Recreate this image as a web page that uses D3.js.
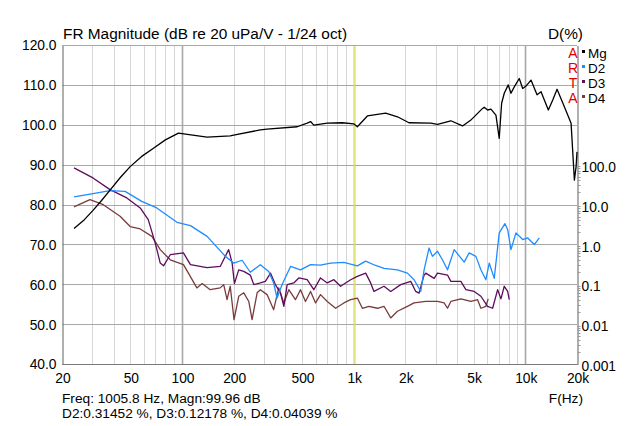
<!DOCTYPE html>
<html><head><meta charset="utf-8">
<script src="https://cdn.jsdelivr.net/npm/d3@7"></script>
<style>
html,body{margin:0;padding:0;background:#fff;}
svg{display:block;font-family:"Liberation Sans",Arial,sans-serif;}
</style></head>
<body><svg id="c" width="640" height="426"></svg>
<script>
// ---------------- data ----------------
const title = "FR Magnitude (dB re 20 uPa/V - 1/24 oct)";
const rightTitle = "D(%)";
const xTicks = [20, 50, 100, 200, 500, 1000, 2000, 5000, 10000, 20000];
const xTickLabels = ["20", "50", "100", "200", "500", "1k", "2k", "5k", "10k", "20k"];
const yTicks = [40, 50, 60, 70, 80, 90, 100, 110, 120];
const dTicks = [0.001, 0.01, 0.1, 1, 10, 100];
const dTickLabels = ["0.001", "0.01", "0.1", "1.0", "10.0", "100.0"];
const legendNames = ["Mg", "D2", "D3", "D4"];
const artaLetters = ["A", "R", "T", "A"];
const cursorFreq = 1005.8;
const footer1 = "Freq: 1005.8 Hz, Magn:99.96 dB";
const footer2 = "D2:0.31452 %, D3:0.12178 %, D4:0.04039 %";
const xAxisTitle = "F(Hz)";

// Magnitude (dB)
const mgFreq = [23.5,27,30.4,34,38.1,43.6,49.9,58,68.2,80,95.4,110,140,191,200,286,313,469,536,561,586,702,859,1004,1051,1202,1537,1799,2101,2814,3080,3682,4308,4818,4930,5636,5760,6030,6304,6742,7048,7278,7538,7954,8248,8622,9220,9652,10092,10790,11700,12346,13616,14446,15306,16882,18472,19312,19758,20000];
const mgDb = [74.0,76.2,78.6,81.0,83.6,86.7,89.5,92.0,94.1,96.2,97.9,97.5,96.9,97.2,97.4,98.7,98.9,99.5,100.4,100.8,99.9,100.4,100.5,100.2,99.5,102.2,102.9,102.0,100.5,100.4,100.1,101.0,99.7,101.2,101.6,104.1,104.4,103.7,103.9,102.4,96.6,105.4,107.9,110.0,107.9,109.5,111.6,109.1,109.7,111.2,107.5,108.3,103.7,106.2,108.9,104.5,100.4,86.1,89.5,93.2];

// 2nd harmonic distortion (%)
const d2Freq = [23.5,30.3,38.1,46.6,58.3,71.3,93.5,112,140,179,200,224,250,286,320,342,358,383,429,490,561,640,734,877,960,1051,1175,1330,1502,1799,2056,2248,2460,2572,2750,2878,3080,3300,3522,3850,4402,4708,5152,5510,5892,6162,6590,7048,7608,7890,8248,8820,9652,10324,11280,12068];
const d2Pct = [15.5,18.7,22.3,21.4,12.0,8.2,3.57,2.95,1.59,0.50,0.34,0.40,0.20,0.31,0.21,0.107,0.045,0.098,0.28,0.23,0.31,0.30,0.34,0.355,0.32,0.29,0.38,0.30,0.25,0.23,0.19,0.13,0.066,0.23,0.81,0.50,0.67,0.40,0.23,0.74,0.36,0.61,0.50,0.23,0.13,0.34,0.14,1.94,3.31,2.35,0.74,1.94,1.32,1.45,0.99,1.45];

// 3rd harmonic distortion (%)
const d3Freq = [23.5,30.3,38.1,47.7,57.1,63.6,69.8,74.7,78.1,85.4,102,112,140,167,187,196,202,214,229,250,262,286,306,328,350,375,392,410,448,479,536,586,641,702,767,839,960,1051,1175,1256,1313,1502,1644,1880,2150,2300,2404,2572,2630,2942,3080,3522,3682,4212,4504,5036,5510,6030,6450,6898,7212,7538,7890,8062];
const d3Pct = [82.6,46.4,23.6,14.6,8.2,4.18,1.09,0.34,0.29,0.55,0.61,0.31,0.26,0.28,0.74,0.34,0.104,0.23,0.21,0.17,0.098,0.108,0.118,0.19,0.098,0.060,0.028,0.098,0.108,0.144,0.13,0.073,0.144,0.108,0.13,0.089,0.13,0.158,0.19,0.108,0.066,0.089,0.066,0.098,0.118,0.066,0.060,0.17,0.19,0.14,0.19,0.17,0.118,0.118,0.073,0.066,0.050,0.028,0.025,0.073,0.043,0.089,0.066,0.041];

// 4th harmonic distortion (%)
const d4Freq = [23.5,29.1,34.8,43.6,49.9,57.1,66.8,74.7,85.4,102,109,122,131,146,167,175,183,191,201,214,229,245,256,274,286,313,342,366,392,419,458,490,524,561,600,641,702,785,877,960,1051,1124,1228,1375,1502,1644,1799,2056,2248,2630,3080,3364,3522,3682,4212,4818,5270,5510,5892,6078];
const d4Pct = [8.7,13.2,9.9,5.05,2.8,2.44,1.59,0.74,0.41,0.31,0.19,0.081,0.104,0.073,0.081,0.098,0.041,0.089,0.013,0.050,0.061,0.037,0.013,0.061,0.073,0.055,0.023,0.081,0.034,0.073,0.041,0.073,0.037,0.066,0.034,0.055,0.037,0.025,0.034,0.041,0.045,0.025,0.028,0.025,0.028,0.0143,0.021,0.028,0.034,0.037,0.037,0.034,0.025,0.037,0.043,0.037,0.041,0.025,0.028,0.043];

const colors = {Mg:"#000000", D2:"#1E8CFF", D3:"#5E0C5E", D4:"#7A3B3B"};

// ---------------- drawing ----------------
const svg = d3.select("#c");
const L = 62, R = 577, T = 45, B = 364;
const x = d3.scaleLog().domain([20, 20000]).range([L, R]);
const y = d3.scaleLinear().domain([40, 120]).range([B, T]);
const yd = d3.scaleLog().domain([0.001, 100000]).range([B, T]);

const grid = svg.append("g");
const vLines = [];
for (let dec = 10; dec <= 10000; dec *= 10) {
  for (let m = 1; m <= 9; m++) {
    const v = dec * m;
    if (v > 20 && v < 20000) vLines.push(v);
  }
}
const isMajor = d => (d === 100 || d === 1000 || d === 10000);
grid.selectAll("line.v").data(vLines).enter().append("line")
  .attr("x1", d => Math.round(x(d)) + 0.5).attr("x2", d => Math.round(x(d)) + 0.5)
  .attr("y1", T).attr("y2", B)
  .attr("stroke", d => isMajor(d) ? "#A8A8A8" : "#D6D6D6")
  .attr("stroke-width", d => isMajor(d) ? 1.6 : 1);
grid.selectAll("line.h").data(yTicks).enter().append("line")
  .attr("x1", L).attr("x2", R)
  .attr("y1", d => Math.round(y(d)) + 0.5).attr("y2", d => Math.round(y(d)) + 0.5)
  .attr("stroke", "#A8A8A8").attr("stroke-width", 1);

// cursor
svg.append("line").attr("x1", Math.round(x(cursorFreq)) + 0.5).attr("x2", Math.round(x(cursorFreq)) + 0.5)
  .attr("y1", T).attr("y2", B).attr("stroke", "#E2E27A").attr("stroke-width", 1.3);

// axes
const axisColor = "#7A7A7A";
const fontAx = "13.8px";
const leftAxis = d3.axisLeft(y).tickValues(yTicks).tickFormat(d3.format(".1f")).tickSize(0).tickPadding(6);
const gl = svg.append("g").attr("transform", `translate(${L + 0.5},0.5)`).call(leftAxis);
const bottomAxis = d3.axisBottom(x).tickValues(xTicks).tickFormat((d, i) => xTickLabels[i]).tickSize(0).tickPadding(9);
const gb = svg.append("g").attr("transform", `translate(0.5,${B + 0.5})`).call(bottomAxis);
const rightAxis = d3.axisRight(yd).tickValues(dTicks).tickFormat((d, i) => dTickLabels[i]).tickSize(0).tickPadding(4);
const gr = svg.append("g").attr("transform", `translate(${R + 0.5},0.5)`).call(rightAxis);
const minorD = [];
for (let dec = 0.001; dec < 100; dec *= 10) for (let m = 2; m <= 9; m++) minorD.push(dec * m);
gr.selectAll("line.minor").data(minorD).enter().append("line")
  .attr("x1", 0).attr("x2", 3).attr("y1", d => Math.round(yd(d))).attr("y2", d => Math.round(yd(d)))
  .attr("stroke", "#9A9A9A").attr("stroke-width", 1);
[gl, gb, gr].forEach(g => {
  g.select(".domain").attr("stroke", axisColor).attr("stroke-width", 1.2);
  g.selectAll("text").attr("fill", "#000").style("font-size", fontAx).style("font-family", '"Liberation Sans",Arial,sans-serif');
});
gr.selectAll(".tick text").attr("dy", "0.45em");
gb.select(".domain").attr("d", `M${L},0H${R}`);

svg.append("line").attr("x1", L).attr("x2", R).attr("y1", T + 0.5).attr("y2", T + 0.5).attr("stroke", "#A8A8A8");

// curves
const plot = svg.append("g");
function draw(fr, vals, scale, col) {
  const pts = fr.map((f, i) => [x(f), scale(vals[i])]);
  plot.append("path").attr("d", d3.line()(pts)).attr("fill", "none")
    .attr("stroke", col).attr("stroke-width", 1.3).attr("stroke-linejoin", "round");
}
draw(d4Freq, d4Pct, yd, colors.D4);
draw(d3Freq, d3Pct, yd, colors.D3);
draw(d2Freq, d2Pct, yd, colors.D2);
draw(mgFreq, mgDb, y, colors.Mg);

// titles
svg.append("text").attr("x", 63).attr("y", 39).text(title).style("font-size", "15.4px");
svg.append("text").attr("x", 583).attr("y", 39).attr("text-anchor", "end").text(rightTitle).style("font-size", "15.4px");

// ARTA + legend
artaLetters.forEach((c, i) => {
  svg.append("text").attr("x", 573).attr("y", 58 + i * 15).attr("text-anchor", "middle")
    .attr("fill", "#E00000").style("font-size", "14px").text(c);
});
legendNames.forEach((n, i) => {
  svg.append("rect").attr("x", 582).attr("y", 50 + i * 15).attr("width", 3).attr("height", 3).attr("fill", colors[n]);
  svg.append("text").attr("x", 588).attr("y", 58 + i * 15).style("font-size", "13.5px").text(n);
});

// footer
svg.append("text").attr("x", 62).attr("y", 403).style("font-size", "13.7px").text(footer1);
svg.append("text").attr("x", 62).attr("y", 418).style("font-size", "13.7px").text(footer2);
svg.append("text").attr("x", 583).attr("y", 403).attr("text-anchor", "end").style("font-size", "13.7px").text(xAxisTitle);
</script></body></html>
